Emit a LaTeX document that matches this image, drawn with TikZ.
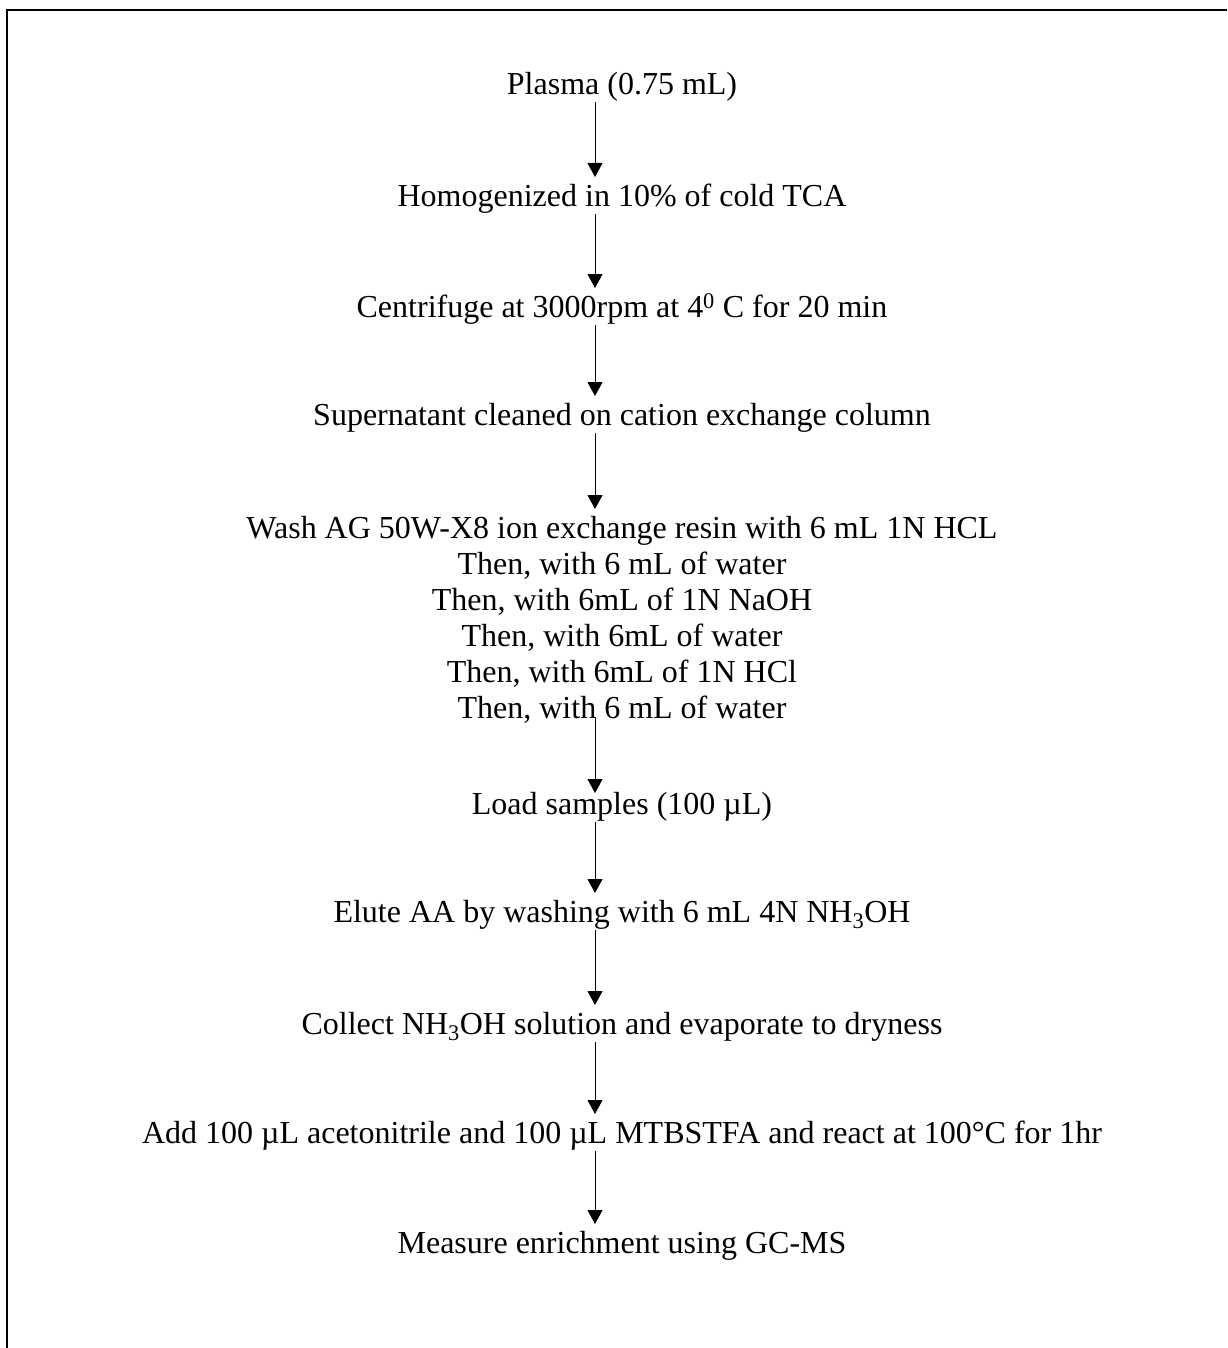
\documentclass[tikz,border=0pt]{standalone}
\usepackage{fontspec}
\setmainfont{Liberation Serif}
\usetikzlibrary{arrows.meta}
\tikzset{
    flowchart/.style={x=1pt, y=-1pt, >={Triangle[width=15pt, length=14pt]}},
    stage/.style={anchor=north, inner sep=0pt, align=center, font=\fontsize{32}{36}\selectfont},
    oneline/.style={stage, text height=29pt, text depth=8pt},
    flow/.style={->, line width=1pt},
    frame/.style={line width=2pt},
}
% struts for the first and last line of a block of several lines
\newcommand{\topstrut}{\rule{0pt}{29pt}}
\newcommand{\botstrut}{\rule[-8pt]{0pt}{8pt}}

\begin{document}
\begin{tikzpicture}[flowchart]
    \useasboundingbox (0,0) rectangle (1227,1348);

    \draw[frame] (7,1348) -- (7,10) -- (1227,10);

    \coordinate (spine) at (595,0);

    \node[oneline] (plasma) at (622,65) {Plasma (0.75 mL)};
    \node[oneline] (homog) at (622,177) {Homogenized in 10\% of cold TCA};
    \node[oneline] (centri) at (622,288) {Centrifuge at 3000rpm at 4\textsuperscript{0} C for 20 min};
    \node[oneline] (super) at (622,396) {Supernatant cleaned on cation exchange column};
    \node[stage] (wash) at (622,509) {\topstrut Wash AG 50W-X8 ion exchange resin with 6 mL 1N HCL\\
        Then, with 6 mL of water\\
        Then, with 6mL of 1N NaOH\\
        Then, with 6mL of water\\
        Then, with 6mL of 1N HCl\\
        Then, with 6 mL of water\botstrut};
    \node[oneline] (load) at (622,785) {Load samples (100 µL)};
    \node[oneline] (elute) at (622,893) {Elute AA by washing with 6 mL 4N NH\textsubscript{3}OH};
    \node[oneline] (collect) at (622,1005) {Collect NH\textsubscript{3}OH solution and evaporate to dryness};
    \node[oneline] (derive) at (622,1114) {Add 100 µL acetonitrile and 100 µL MTBSTFA and react at 100°C for 1hr};
    \node[oneline] (measure) at (622,1224) {Measure enrichment using GC-MS};

    \draw[flow] (plasma.south -| spine) -- (homog.north -| spine);
    \draw[flow] (homog.south -| spine) -- (centri.north -| spine);
    \draw[flow] (centri.south -| spine) -- (super.north -| spine);
    \draw[flow] (super.south -| spine) -- (wash.north -| spine);
    \draw[flow, shorten <=-9pt, shorten >=-8pt] (wash.south -| spine) -- (load.north -| spine);
    \draw[flow] (load.south -| spine) -- (elute.north -| spine);
    \draw[flow] (elute.south -| spine) -- (collect.north -| spine);
    \draw[flow] (collect.south -| spine) -- (derive.north -| spine);
    \draw[flow] (derive.south -| spine) -- (measure.north -| spine);
\end{tikzpicture}
\end{document}
